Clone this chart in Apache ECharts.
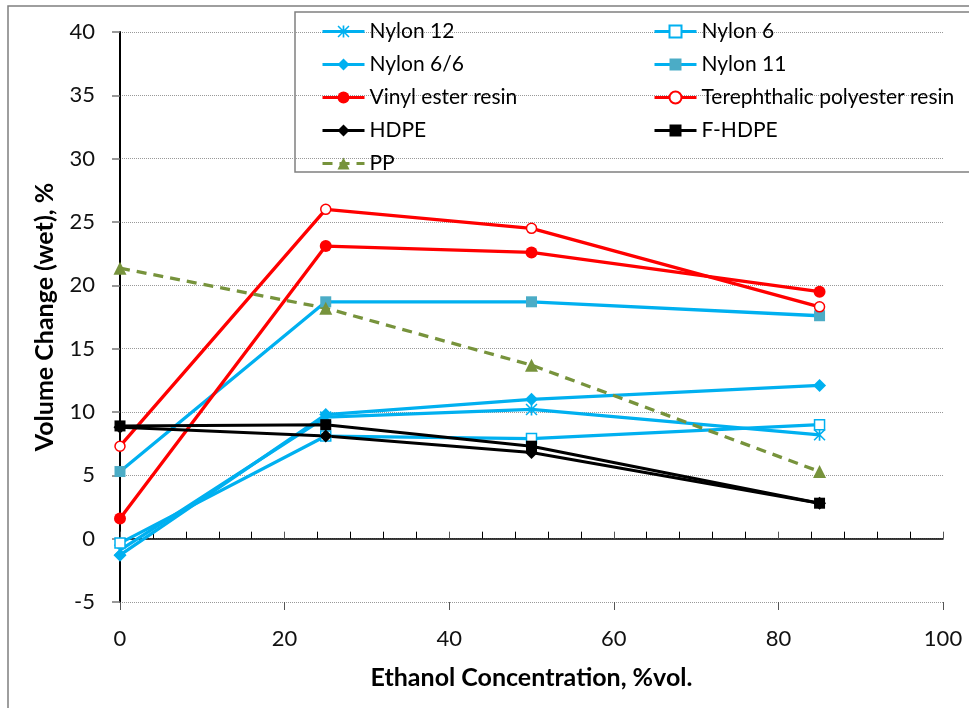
<!DOCTYPE html>
<html>
<head>
<meta charset="utf-8">
<script src="https://cdn.jsdelivr.net/npm/echarts@6/dist/echarts.min.js"></script>
<style>
html,body{margin:0;padding:0;background:#fff;}
#chart{width:969px;height:708px;}
</style>
</head>
<body>
<div id="chart"></div>
<script>
const ethanol = [0, 25, 50, 85];
const nylon12 = [-0.9, 9.6, 10.2, 8.2];
const nylon6 = [-0.35, 8.1, 7.9, 9.0];
const nylon66 = [-1.3, 9.8, 11.0, 12.1];
const nylon11 = [5.3, 18.7, 18.7, 17.6];
const vinylEster = [1.6, 23.1, 22.6, 19.5];
const terephthalic = [7.3, 26.0, 24.5, 18.3];
const hdpe = [8.8, 8.1, 6.8, 2.8];
const fhdpe = [8.9, 9.0, 7.3, 2.8];
const pp = [21.35, 18.2, 13.7, 5.3];

const xTicks = [0, 20, 40, 60, 80, 100];
const yTicks = [-5, 0, 5, 10, 15, 20, 25, 30, 35, 40];

const legendCol1 = ['Nylon 12', 'Nylon 6/6', 'Vinyl ester resin', 'HDPE', 'PP'];
const legendCol2 = ['Nylon 6', 'Nylon 11', 'Terephthalic polyester resin', 'F-HDPE'];

const BLUE = '#00B0F0', TEAL = '#4BACC6', RED = '#FF0000', BLACK = '#000000', OLIVE = '#77933C';
const asterisk = 'path://M4.3 0 L5.7 0 L5.7 10 L4.3 10 Z M0 0.9 L0.9 0 L10 9.1 L9.1 10 Z M9.1 0 L10 0.9 L0.9 10 L0 9.1 Z';

function pts(arr) { return ethanol.map((x, i) => [x, arr[i]]); }

function mk(name, arr, o) {
  return {
    name: name, type: 'line', data: pts(arr),
    symbol: o.symbol, symbolSize: o.size,
    lineStyle: { color: o.line, width: o.width || 3.3, type: o.dash || 'solid' },
    itemStyle: { color: o.fill, borderColor: o.border || o.fill, borderWidth: o.bw || 0 },
    emphasis: { disabled: true },
    animation: false
  };
}

const series = [
  mk('Nylon 12', nylon12, { symbol: asterisk, size: 12, line: BLUE, fill: BLUE }),
  mk('Nylon 6', nylon6, { symbol: 'rect', size: 10, line: BLUE, fill: '#ffffff', border: BLUE, bw: 1.5 }),
  mk('Nylon 6/6', nylon66, { symbol: 'diamond', size: 13, line: BLUE, fill: BLUE }),
  mk('Nylon 11', nylon11, { symbol: 'rect', size: 11, line: BLUE, fill: TEAL }),
  mk('Vinyl ester resin', vinylEster, { symbol: 'circle', size: 12, line: RED, fill: RED }),
  mk('Terephthalic polyester resin', terephthalic, { symbol: 'circle', size: 10, line: RED, fill: '#ffffff', border: RED, bw: 1.5 }),
  mk('HDPE', hdpe, { symbol: 'diamond', size: 13, line: BLACK, fill: BLACK, width: 3 }),
  mk('F-HDPE', fhdpe, { symbol: 'rect', size: 11, line: BLACK, fill: BLACK, width: 3 }),
  mk('PP', pp, { symbol: 'triangle', size: 13, line: OLIVE, fill: OLIVE, dash: [10, 7] })
];

const FONT = 'Lato';
const legendCommon = {
  orient: 'vertical', top: 21, itemWidth: 42, itemHeight: 15, itemGap: 12,
  lineStyle: { width: 3 },
  textStyle: { fontFamily: FONT, fontSize: 21, color: '#000', lineHeight: 20 },
  selectedMode: false, backgroundColor: 'transparent', padding: 0
};

const option = {
  backgroundColor: '#ffffff',
  animation: false,
  graphic: [
    { type: 'rect', z: 0, shape: { x: 8, y: 6, width: 1000, height: 800 }, style: { fill: 'none', stroke: '#7f7f7f', lineWidth: 1.5 } },
    { type: 'rect', z: 0, shape: { x: 295, y: 12, width: 700, height: 160 }, style: { fill: '#ffffff', stroke: '#808080', lineWidth: 1.5 } }
  ],
  legend: [
    Object.assign({}, legendCommon, { left: 321, data: legendCol1 }),
    Object.assign({}, legendCommon, { left: 653, data: legendCol2 })
  ],
  grid: { left: 120, top: 32, width: 823, height: 570, containLabel: false },
  xAxis: [
    {
      type: 'value', min: xTicks[0], max: xTicks[xTicks.length - 1], interval: 20,
      name: 'Ethanol Concentration, %vol.', nameLocation: 'middle', nameGap: 63,
      nameTextStyle: { fontFamily: FONT, fontWeight: 'bold', fontSize: 25, color: '#000' },
      axisLine: { show: true, lineStyle: { color: '#000', width: 1.5 } },
      axisTick: { show: true, inside: true, length: 7, lineStyle: { color: '#555', width: 1 } },
      minorTick: { show: true, splitNumber: 5, length: 7, lineStyle: { color: '#000', width: 1 } },
      axisLabel: { fontFamily: FONT, fontSize: 22, color: '#111', margin: 26 },
      splitLine: { show: false }
    },
    {
      type: 'value', min: xTicks[0], max: xTicks[xTicks.length - 1], interval: 20, position: 'bottom',
      axisLine: { show: false }, axisLabel: { show: false }, splitLine: { show: false },
      axisTick: { show: true, inside: false, length: 8, lineStyle: { color: '#555', width: 1 } }
    }
  ],
  yAxis: {
    type: 'value', min: yTicks[0], max: yTicks[yTicks.length - 1], interval: 5,
    name: 'Volume Change (wet), %', nameLocation: 'middle', nameGap: 63,
    nameTextStyle: { fontFamily: FONT, fontWeight: 'bold', fontSize: 25, color: '#000' },
    axisLine: { show: true, lineStyle: { color: '#000', width: 2 } },
    axisTick: { show: true, inside: false, length: 8, lineStyle: { color: '#777', width: 1.5 } },
    axisLabel: { fontFamily: FONT, fontSize: 22, color: '#111', margin: 25 },
    splitLine: { show: true, lineStyle: { color: '#999', width: 1, type: [1, 1] } }
  },
  series: series
};

const chart = echarts.init(document.getElementById('chart'), null, { renderer: 'canvas' });
chart.setOption(option);
</script>
</body>
</html>
